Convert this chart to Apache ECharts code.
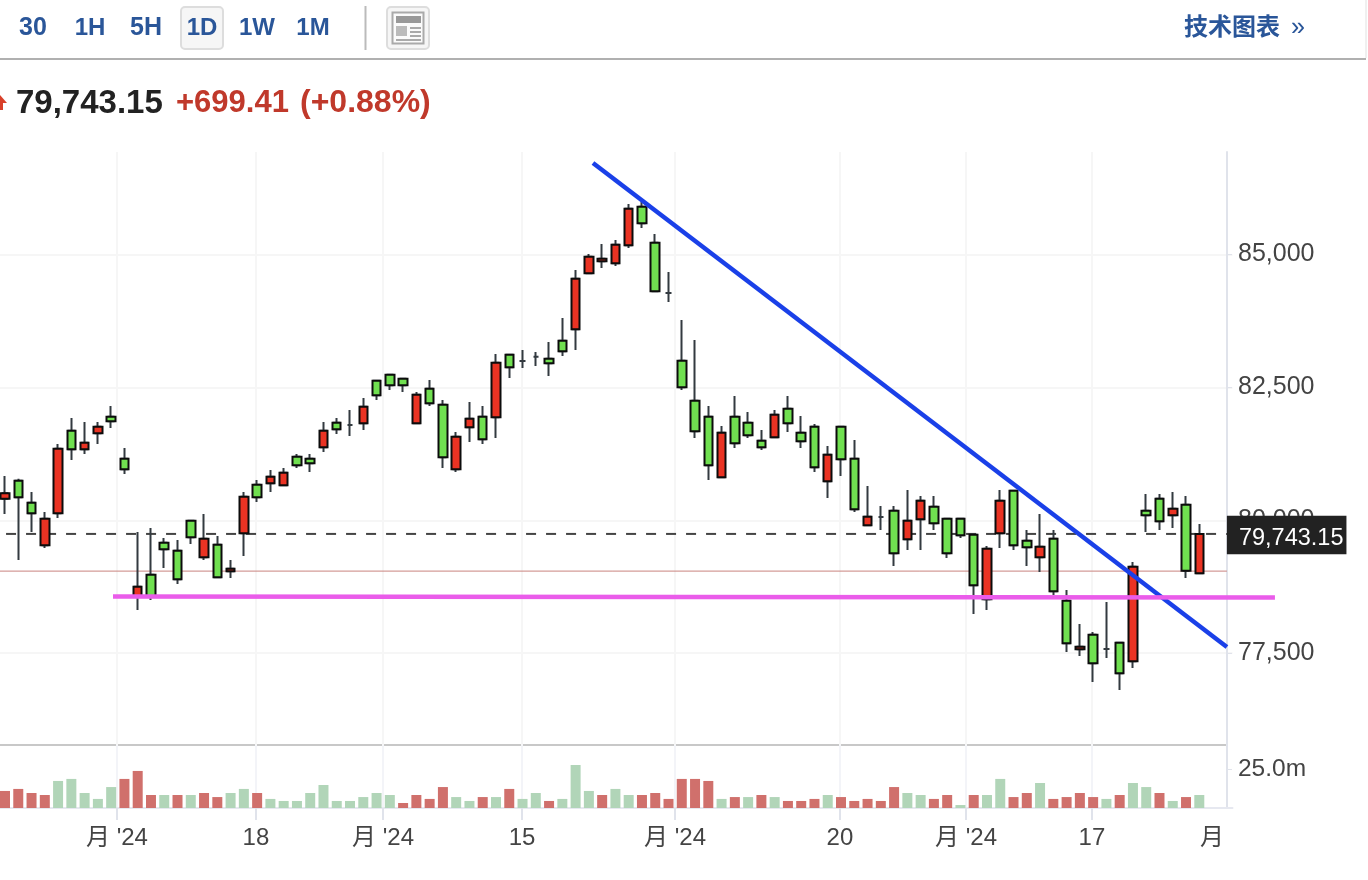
<!DOCTYPE html>
<html lang="zh">
  <head>
    <meta charset="utf-8" />
    <title>79,743.15</title>
    <style>
      html, body { margin: 0; padding: 0; background: #fff; }
      #chart { width: 1368px; height: 880px; }
    </style>
  </head>
  <body>
    <div id="chart"></div>
    <script src="https://cdn.jsdelivr.net/npm/echarts@6/dist/echarts.min.js"></script>
    <script>
      // red = close above open, green = close below open
      var opens = [80405,80744,80330,79529,80131,81684,81334,81635,81947,81157,78557,78977,79578,79428,79992,79304,79541,79041,79755,80669,
        80695,80657,81195,81157,81372,81834,81791,81823,82624,82737,82661,81823,82473,82173,80958,81748,81947,81936,83113,82994,
        83075,83037,83376,83590,84643,84869,84831,85169,85895,85218,84273,83000,82248,81947,80808,81947,81834,81496,81560,82097,
        81646,81759,80733,81759,81157,79905,80061,80180,79642,80018,80255,80029,80029,79729,78514,79755,80556,79616,79304,79653,
        78488,77574,77849,77580,77698,77349,80180,80405,80093,80293,79003];
      var closes = [80507,80432,80131,80029,81345,81334,81458,81759,81861,80958,78751,78576,79454,78890,79680,79653,78928,79089,80443,80432,
        80819,80894,81033,81071,81684,81710,81791,82135,82349,82537,82537,82361,82199,81184,81571,81909,81522,82962,82876,82994,
        83075,82951,83177,84541,84955,84917,85181,85857,85583,84305,84273,82500,81673,81033,81646,81447,81597,81372,81985,81823,
        81485,80996,81233,81146,80206,80067,80061,79379,79992,80368,79943,79379,79717,78777,79465,80368,79529,79492,79503,78665,
        77687,77623,77311,77580,77123,79127,80093,79981,80217,79052,79743.15];
      var lows = [80118,79253,79779,79479,80043,81133,81246,81434,81735,80870,78313,78501,79103,78802,79554,79253,78928,78915,79328,80343,
        80531,80657,80983,80907,81283,81622,81584,81697,82261,82449,82411,81823,82148,80983,80907,81471,81434,81547,82675,82863,
        82900,82712,83088,83201,84643,84743,84780,85119,85495,84305,84103,82449,81547,80757,80808,81359,81547,81321,81560,81659,
        81359,80907,80419,80832,80155,79905,79817,79140,79441,79441,79817,79291,79667,78238,78313,79479,79441,79140,79027,78595,
        77523,77448,76959,77411,76809,77223,79779,79817,79855,78915,79003];
      var highs = [80832,80781,80531,80155,81434,81923,81847,81847,82148,81359,79779,79855,79667,79629,79992,80118,79704,79253,80531,80757,
        80945,80983,81246,81246,81847,81923,82073,82299,82624,82750,82661,82411,82637,82261,81659,82223,82148,83126,83113,83201,
        83163,83351,83803,84705,85006,85194,85269,85946,85983,85382,84667,83765,83389,82148,81772,82336,82035,81697,82073,82336,
        81960,81810,81396,81759,81509,80644,80268,80268,80569,80456,80456,80029,80029,79729,79516,80569,80569,79817,80118,79817,
        78689,78050,77899,78463,77698,79215,80494,80494,80531,80456,79930];

      // volume in millions, with its own colour side
      var volumes = [10.9,12.2,9.6,8.3,17.3,18.6,9.6,5.8,13.4,18.6,23.7,8.3,8.3,8.3,8.3,9.6,7,9.6,12.2,9.6,
        5.8,4.5,4.5,9.6,14.7,4.5,4.5,7,9.6,8.3,3.2,8.3,5.8,13.4,7,4.5,7,7,12.2,5.8,
        9.6,4.5,5.8,27.5,10.9,8.3,12.2,8.3,8.3,9.6,5.8,18.6,18.6,17.3,5.8,7,7,8.3,7,4.5,
        4.5,5.8,8.3,7,4.5,5.8,4.5,13.4,9.6,8.3,5.8,8.3,1.9,8.3,8.3,18.6,7,9.6,16,5.8,
        7,9.6,7,5.8,8.3,16,13.4,9.6,4.5,7,8.3];
      var volumeSides = ['r','r','r','r','g','g','g','g','g','r','r','r','g','r','g','r','r','g','g','r',
        'g','g','g','g','g','g','g','g','g','g','r','r','r','r','g','g','r','g','r','g',
        'g','r','g','g','g','r','g','g','r','r','r','r','r','r','g','r','g','r','g','r',
        'r','r','g','r','r','r','r','r','g','g','r','r','g','r','g','g','r','r','g','r',
        'r','r','r','g','r','g','g','r','g','r','g'];

      var priceTicks = [77500, 80000, 82500, 85000];
      var volumeTicks = [25];

      // time axis is in candle slots: slot n is the left edge of candle n
      var timeTicks = [8.94, 19.41, 28.99, 39.46, 50.99, 63.42, 72.92, 82.41];
      var labelSlots = [8.94, 19.41, 28.99, 39.46, 50.99, 63.42, 72.92, 82.41, 91.46];
      var labelTexts = ["月 '24", '18', "月 '24", '15', "月 '24", '20', "月 '24", '17', '月'];

      var lastPrice = 79743.15;
      var prevClose = 79043.74;
      var blueLine = [[44.81, 86717], [92.58, 77617]];
      var pinkLine = [[8.64, 78565], [96.2, 78550]];
      var lineStart = 0.58, lineEnd = 92.58;

      var slotCount = 93;
      var overlaySlots = 100;
      var slotWidth = 13.27;
      var gridLeft = -1.635;
      var categories = [];
      for (var n = 0; n < slotCount; n++) categories.push(n);

      var FONT = '"Liberation Sans", "Noto Sans CJK SC", sans-serif';
      var BLUE_TEXT = '#2a5699';

      function headerText(text, x, y, size, color, weight, align)
      {
        return {
          type: 'text', silent: true,
          style: { text: text, x: x, y: y, fill: color, font: (weight || 'bold') + ' ' + size + 'px ' + FONT,
            textAlign: align || 'center', textVerticalAlign: 'middle' }
        };
      }
      function box(x, y, w, h, fill, stroke, r)
      {
        return {
          type: 'rect', silent: true,
          shape: { x: x, y: y, width: w, height: h, r: r || 0 },
          style: { fill: fill, stroke: stroke || null, lineWidth: stroke ? 2 : 0 }
        };
      }

      var graphics = [
        box(181, 7, 42, 42, '#f6f6f6', '#dddddd', 4),
        headerText('30', 33, 28, 25, BLUE_TEXT),
        headerText('1H', 90, 28, 24, BLUE_TEXT),
        headerText('5H', 146, 28, 25, BLUE_TEXT),
        headerText('1D', 202, 28, 24, BLUE_TEXT),
        headerText('1W', 257, 28, 24, BLUE_TEXT),
        headerText('1M', 313, 28, 24, BLUE_TEXT),
        box(364.5, 6, 2, 44, '#bbbbbb'),
        box(387, 7, 42, 42, '#f6f6f6', '#dddddd', 4),
        box(392.5, 12.5, 31, 31, '#fbfbfb', '#aaaaaa'),
        box(396, 16, 25, 7, '#999999'),
        box(396, 26, 11, 10, '#bbbbbb'),
        box(410, 27, 11, 2, '#aaaaaa'),
        box(410, 31, 11, 2, '#aaaaaa'),
        box(410, 35, 11, 2, '#aaaaaa'),
        box(396, 39, 25, 2, '#aaaaaa'),
        box(0, 58, 1366, 2, '#b0b0b0'),
        box(1365.5, 0, 1, 58, '#e2e2e2'),
        headerText('技术图表', 1184, 28, 24, BLUE_TEXT, 'bold', 'left'),
        headerText('»', 1298, 28, 25, BLUE_TEXT, 'normal'),
        { type: 'polygon', silent: true, shape: { points: [[0, 95], [7, 103], [3, 103], [3, 110], [0, 110]] }, style: { fill: '#d8402a' } },
        headerText('79,743.15', 16, 104, 33, '#222222', 'bold', 'left'),
        headerText('+699.41', 176, 103, 31, '#c0392b', 'bold', 'left'),
        headerText('(+0.88%)', 300, 103, 32, '#c0392b', 'bold', 'left'),
        box(0, 744, 1227, 2, '#c8c8c8')
      ];

      var option = {
        animation: false,
        backgroundColor: '#fff',
        textStyle: { fontFamily: FONT },
        graphic: graphics,
        grid: [
          { left: gridLeft, top: 152, width: slotCount * slotWidth, height: 593, outerBoundsMode: 'none' },
          { left: gridLeft, top: 745, width: slotCount * slotWidth, height: 63, outerBoundsMode: 'none' },
          // same scale as the price pane, wider, for the drawn trend lines
          { left: gridLeft, top: 152, width: overlaySlots * slotWidth, height: 593, outerBoundsMode: 'none' }
        ],
        xAxis: [
          { type: 'category', gridIndex: 0, data: categories, show: false },
          { type: 'category', gridIndex: 1, data: categories, show: false },
          {
            type: 'value', gridIndex: 0, min: 0, max: slotCount, position: 'bottom',
            axisLine: { show: false, onZero: false }, axisLabel: { show: false },
            axisTick: { show: false, customValues: timeTicks },
            splitLine: { show: true, lineStyle: { color: '#f6f6f6', width: 2 } }
          },
          {
            type: 'value', gridIndex: 1, min: 0, max: slotCount, position: 'bottom',
            axisLine: { show: true, onZero: false, lineStyle: { color: '#e6e8f0', width: 2 } },
            axisTick: { show: true, length: 12, customValues: timeTicks, lineStyle: { color: '#e0e3eb', width: 2 } },
            axisLabel: {
              show: true, customValues: labelSlots, color: '#444', fontSize: 24, margin: 18, fontFamily: FONT,
              formatter: function(v) { return labelTexts[labelSlots.indexOf(v)]; }
            },
            splitLine: { show: true, lineStyle: { color: '#f3f4f8', width: 2 } }
          },
          { type: 'value', gridIndex: 2, min: 0, max: overlaySlots, show: false }
        ],
        yAxis: [
          {
            type: 'value', gridIndex: 0, position: 'right', offset: -5.5, min: 75775, max: 86923,
            axisLine: { show: true, onZero: false, lineStyle: { color: '#e0e3eb', width: 2 } },
            axisTick: { show: true, length: 5, customValues: priceTicks, lineStyle: { color: '#e0e3eb', width: 1 } },
            axisLabel: {
              show: true, customValues: priceTicks, color: '#444', fontSize: 25, margin: 11, fontFamily: FONT,
              formatter: function(v) { return echarts.format.addCommas(v); }
            },
            splitLine: { show: true, lineStyle: { color: '#f6f6f6', width: 2 } }
          },
          {
            type: 'value', gridIndex: 1, position: 'right', offset: -5.5, min: 0, max: 40.3,
            axisLine: { show: true, onZero: false, lineStyle: { color: '#e0e3eb', width: 2 } },
            axisTick: { show: true, length: 5, customValues: volumeTicks, lineStyle: { color: '#e0e3eb', width: 1 } },
            axisLabel: {
              show: true, customValues: volumeTicks, color: '#444', fontSize: 24.5, margin: 11, fontFamily: FONT,
              formatter: function(v) { return v.toFixed(1) + 'm'; }
            },
            splitLine: { show: false }
          },
          { type: 'value', gridIndex: 2, min: 75775, max: 86923, show: false }
        ],
        series: [
          // previous close
          {
            type: 'line', xAxisIndex: 2, yAxisIndex: 0, z: 1, symbol: 'none', silent: true,
            data: [[0, prevClose], [lineEnd, prevClose]],
            lineStyle: { color: '#c9837f', width: 1 }
          },
          // last price with its label box
          {
            type: 'line', xAxisIndex: 2, yAxisIndex: 0, z: 1, symbol: 'none', silent: true,
            data: [[lineStart, lastPrice], [lineEnd, lastPrice]],
            lineStyle: { color: '#444', width: 2, type: [10, 10] },
            endLabel: {
              show: true, distance: 0, offset: [0, 1], backgroundColor: '#222', padding: [4, 3, 4, 12],
              formatter: function() { return '{a|79,743.15}'; },
              rich: { a: { color: '#fff', fontSize: 23.5, fontFamily: FONT, padding: [7, 0, 0, 0] } }
            }
          },
          // wicks and dojis
          {
            type: 'candlestick', xAxisIndex: 0, yAxisIndex: 0, z: 2, barWidth: 6, silent: true,
            data: opens.map(function(o, i) { return [o, closes[i], lows[i], highs[i]]; }),
            itemStyle: {
              color: '#333a40', color0: '#333a40', borderColor: '#333a40', borderColor0: '#333a40',
              borderColorDoji: '#333a40', borderWidth: 2
            }
          },
          // bodies
          {
            type: 'candlestick', xAxisIndex: 0, yAxisIndex: 0, z: 3, barWidth: 9, silent: true,
            data: opens.map(function(o, i) {
              var c = closes[i];
              return o === c ? '-' : [o, c, Math.min(o, c), Math.max(o, c)];
            }),
            itemStyle: {
              color: '#ea3323', color0: '#70e050', borderColor: '#0c0c0c', borderColor0: '#0c0c0c', borderWidth: 2
            }
          },
          {
            type: 'line', xAxisIndex: 4, yAxisIndex: 2, z: 5, symbol: 'none', silent: true,
            data: blueLine,
            lineStyle: { color: '#1a40e8', width: 4.5 }
          },
          {
            type: 'line', xAxisIndex: 4, yAxisIndex: 2, z: 6, symbol: 'none', silent: true,
            data: pinkLine,
            lineStyle: { color: '#ea5cea', width: 4.5 }
          },
          {
            type: 'bar', xAxisIndex: 1, yAxisIndex: 1, barWidth: 10, silent: true,
            data: volumes.map(function(v, i) {
              return { value: v, itemStyle: { color: volumeSides[i] === 'r' ? '#d0706c' : '#b1d5b8' } };
            })
          }
        ]
      };

      var myChart = echarts.init(document.getElementById('chart'), null, { renderer: 'canvas' });
      myChart.setOption(option);
    </script>
  </body>
</html>
